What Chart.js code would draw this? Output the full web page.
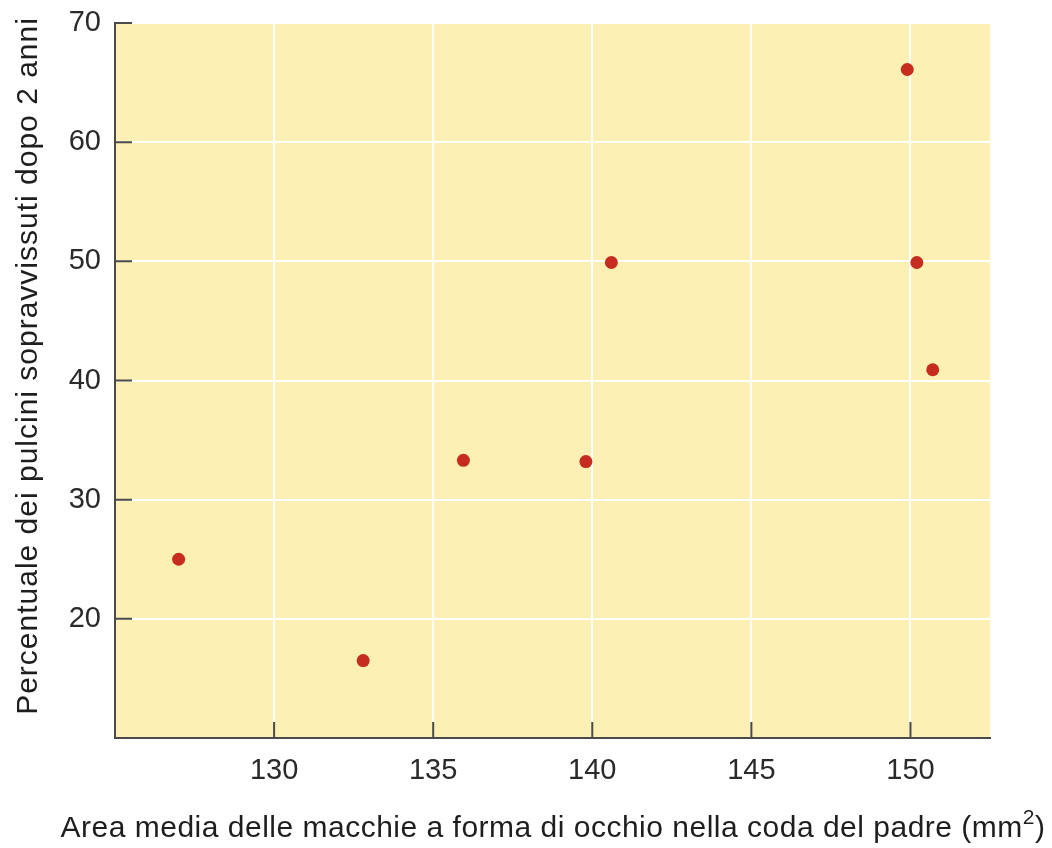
<!DOCTYPE html>
<html>
<head>
<meta charset="utf-8">
<script src="https://cdn.jsdelivr.net/npm/chart.js@4/dist/chart.umd.min.js"></script>
<style>
  html, body { margin: 0; padding: 0; background: #fff; }
  #wrap { width: 1052px; height: 848px; }
</style>
</head>
<body>
<div id="wrap"><canvas id="chart" width="1052" height="848"></canvas></div>
<script>
// Area of eye spots on the father's tail vs. chick survival
var areaValues = [127.0, 132.8, 135.95, 139.8, 140.6, 149.9, 150.2, 150.7];
var survivalValues = [25.0, 16.5, 33.3, 33.2, 49.9, 66.1, 49.9, 40.9];
var xTicks = [130, 135, 140, 145, 150];
var yTicks = [20, 30, 40, 50, 60, 70];

var xTitle = 'Area media delle macchie a forma di occhio nella coda del padre (mm';
var xTitleSup = '2';
var yTitle = 'Percentuale dei pulcini sopravvissuti dopo 2 anni';

var fontFamily = '"Liberation Sans", Arial, Helvetica, sans-serif';

var points = areaValues.map(function (x, i) {
    return {x: x, y: survivalValues[i]};
});

// Fill the plot area, draw the short inner tick marks and the axis titles
// (titles drawn here because they run wider than the plot area)
var plotDecor = {
    id: 'plotDecor',
    beforeDraw: function (chart) {
        var a = chart.chartArea;
        var ctx = chart.ctx;
        ctx.save();
        ctx.fillStyle = '#fdf0b4';
        ctx.fillRect(a.left, a.top, a.right - a.left, a.bottom - a.top);
        ctx.restore();
    },
    afterDraw: function (chart) {
        var a = chart.chartArea;
        var ctx = chart.ctx;
        ctx.save();
        ctx.strokeStyle = '#4a4a4a';
        ctx.lineWidth = 2;
        ctx.beginPath();
        yTicks.forEach(function (v) {
            var py = chart.scales.y.getPixelForValue(v);
            ctx.moveTo(a.left, py);
            ctx.lineTo(a.left + 17, py);
        });
        xTicks.forEach(function (v) {
            var px = chart.scales.x.getPixelForValue(v);
            ctx.moveTo(px, a.bottom);
            ctx.lineTo(px, a.bottom - 16);
        });
        ctx.stroke();

        // x title with superscript
        ctx.fillStyle = '#1e1e1e';
        ctx.textBaseline = 'alphabetic';
        ctx.textAlign = 'left';
        ctx.letterSpacing = '0.5px';
        ctx.font = '30px ' + fontFamily;
        var mainW = ctx.measureText(xTitle).width;
        ctx.font = '21px ' + fontFamily;
        var supW = ctx.measureText(xTitleSup).width;
        ctx.font = '30px ' + fontFamily;
        var closeW = ctx.measureText(')').width;
        var total = mainW + supW + closeW;
        var x0 = 553 - total / 2;
        ctx.fillText(xTitle, x0, 837);
        ctx.font = '21px ' + fontFamily;
        ctx.fillText(xTitleSup, x0 + mainW, 824);
        ctx.font = '30px ' + fontFamily;
        ctx.fillText(')', x0 + mainW + supW, 837);

        // y title
        ctx.translate(37, 366);
        ctx.rotate(-Math.PI / 2);
        ctx.textAlign = 'center';
        ctx.letterSpacing = '1px';
        ctx.font = '30px ' + fontFamily;
        ctx.fillText(yTitle, 0, 0);
        ctx.restore();
    }
};

new Chart(document.getElementById('chart').getContext('2d'), {
    type: 'scatter',
    data: {
        datasets: [{
            data: points,
            backgroundColor: '#c62d1f',
            borderColor: '#c62d1f',
            borderWidth: 0,
            pointRadius: 6.5,
            pointHoverRadius: 6.5,
        }],
    },
    options: {
        responsive: false,
        animation: false,
        layout: {padding: {top: 23, right: 62, left: 0, bottom: 0}},
        plugins: {
            legend: {display: false},
            tooltip: {enabled: false},
        },
        scales: {
            x: {
                type: 'linear',
                min: 125,
                max: 152.5,
                afterBuildTicks: function (scale) {
                    scale.ticks = xTicks.map(function (v) { return {value: v}; });
                },
                afterFit: function (scale) {
                    scale.height = 110;
                    scale.paddingLeft = 0;
                    scale.paddingRight = 0;
                },
                grid: {color: '#ffffff', lineWidth: 2, drawTicks: false},
                border: {display: true, color: '#4a4a4a', width: 2},
                ticks: {
                    padding: 16,
                    color: '#2a2a2a',
                    font: {family: fontFamily, size: 29},
                },
            },
            y: {
                type: 'linear',
                min: 10,
                max: 70,
                afterBuildTicks: function (scale) {
                    scale.ticks = yTicks.map(function (v) { return {value: v}; });
                },
                afterFit: function (scale) {
                    scale.width = 115;
                    scale.paddingTop = 0;
                    scale.paddingBottom = 0;
                },
                grid: {color: '#ffffff', lineWidth: 2, drawTicks: false},
                border: {display: true, color: '#4a4a4a', width: 2},
                ticks: {
                    padding: 14,
                    color: '#2a2a2a',
                    font: {family: fontFamily, size: 29},
                },
            },
        },
    },
    plugins: [plotDecor],
});
</script>
</body>
</html>
